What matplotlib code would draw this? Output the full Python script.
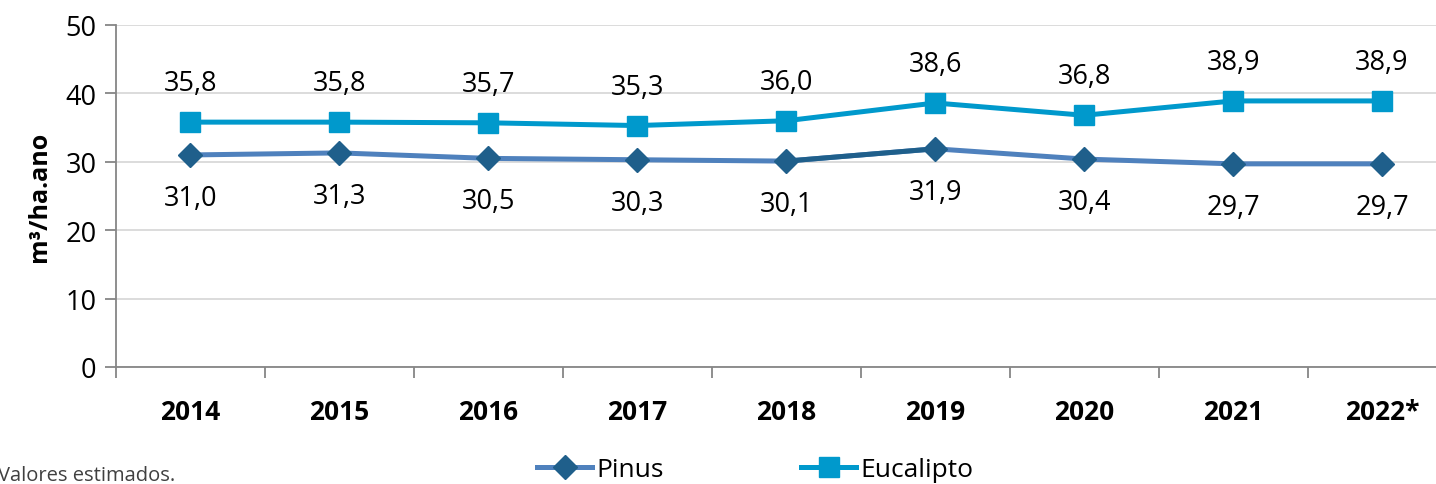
import numpy as np
import matplotlib.pyplot as plt
from matplotlib.lines import Line2D

anos = ['2014', '2015', '2016', '2017', '2018', '2019', '2020', '2021', '2022*']
pinus = [31.0, 31.3, 30.5, 30.3, 30.1, 31.9, 30.4, 29.7, 29.7]
eucalipto = [35.8, 35.8, 35.7, 35.3, 36.0, 38.6, 36.8, 38.9, 38.9]

plt.rcParams['font.family'] = ['Open Sans', 'DejaVu Sans']

cor_pinus = '#4f81bd'
cor_pinus_mk = '#1f5f8b'
cor_euc = '#0099cc'

W, H = 1436, 485
fig = plt.figure(figsize=(W / 100, H / 100), dpi=100)
# o eixo passa um pouco da borda direita, como no original
ax = fig.add_axes([116 / W, (H - 368) / H, (1456.5 - 116) / W, (368 - 26) / H])

x = np.arange(len(anos))

ax.plot(x, pinus, color=cor_pinus, lw=3.6, zorder=3)
# segmento 2018-2019 mais escuro
ax.plot(x[4:6], pinus[4:6], color=cor_pinus_mk, lw=3.6, zorder=3)
ax.plot(x, pinus, ls='none', marker='D', ms=12, color=cor_pinus_mk, zorder=4)
ax.plot(x, eucalipto, color=cor_euc, lw=3.6, marker='s', ms=14, zorder=4)

for i in range(len(anos)):
    ax.annotate(f'{eucalipto[i]:.1f}'.replace('.', ','), (x[i], eucalipto[i]),
                xytext=(0, 28), textcoords='offset points', ha='center', va='center',
                fontsize=19.5, color='black')
    ax.annotate(f'{pinus[i]:.1f}'.replace('.', ','), (x[i], pinus[i]),
                xytext=(0, -31), textcoords='offset points', ha='center', va='center',
                fontsize=19.5, color='black')

ax.set_xlim(-0.5, len(anos) - 0.5)
ax.set_ylim(0, 50)
ax.set_yticks(range(0, 51, 10))
ax.set_xticks(x)
ax.set_xticklabels(anos, fontsize=19, fontweight='bold')
ax.set_xticks(np.arange(-0.5, len(anos), 1), minor=True)
ax.tick_params(axis='x', which='major', length=0, pad=22)
ax.tick_params(axis='x', which='minor', length=8, color='#868686', width=1.3)
ax.tick_params(axis='y', length=8, color='#868686', width=1.3, labelsize=19.5, pad=6)
ax.grid(axis='y', color='#d9d9d9', lw=1.3)
ax.set_axisbelow(True)
for s in ['top', 'right']:
    ax.spines[s].set_visible(False)
for s in ['left', 'bottom']:
    ax.spines[s].set_color('#868686')
    ax.spines[s].set_linewidth(1.3)

ax.set_ylabel('m³/ha.ano', fontsize=18, fontweight='bold', labelpad=10)

handles = [
    Line2D([], [], color=cor_pinus, lw=3.6, marker='D', ms=12, mfc=cor_pinus_mk, mec=cor_pinus_mk),
    Line2D([], [], color=cor_euc, lw=3.6, marker='s', ms=14),
]
fig.legend(handles, ['Pinus', 'Eucalipto'], loc='center', bbox_to_anchor=(755 / W, 1 - 471 / H),
           ncol=2, frameon=False, fontsize=19, handlelength=2.1, handletextpad=0.15,
           columnspacing=5.2, borderpad=0)

fig.text(-2 / W, 1 - 476 / H, 'Valores estimados.', fontsize=14.5, color='#404040',
         va='center', ha='left')

fig.savefig('out.png', dpi=100)
